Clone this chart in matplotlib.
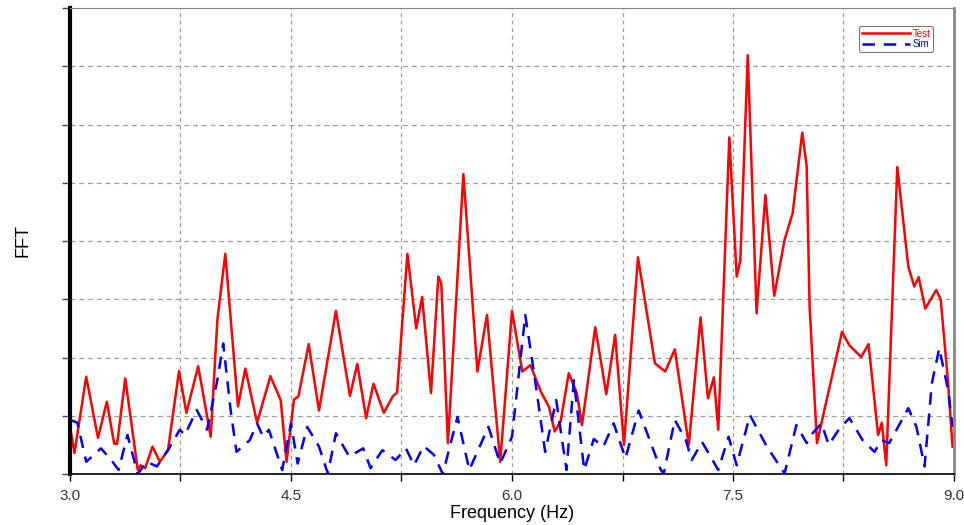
import matplotlib.pyplot as plt
import numpy as np

plt.rcParams['font.family'] = ['Liberation Sans', 'DejaVu Sans']

# Test (red) curve
test_freq = [3.00, 3.03, 3.11, 3.19, 3.25, 3.30, 3.32, 3.375, 3.46, 3.48, 3.51, 3.56, 3.61, 3.665,
             3.74, 3.79, 3.87, 3.955, 4.00, 4.054, 4.14, 4.19, 4.27, 4.36, 4.43, 4.47, 4.52, 4.55,
             4.62, 4.69, 4.805, 4.90, 4.95, 5.01, 5.06, 5.13, 5.19, 5.22, 5.29, 5.35, 5.39, 5.45,
             5.50, 5.52, 5.565, 5.67, 5.765, 5.83, 5.92, 6.00, 6.07, 6.125, 6.20, 6.25, 6.29, 6.33,
             6.385, 6.44, 6.475, 6.565, 6.64, 6.70, 6.76, 6.855, 6.97, 7.04, 7.105, 7.20, 7.28, 7.33,
             7.37, 7.40, 7.475, 7.525, 7.55, 7.60, 7.66, 7.72, 7.78, 7.85, 7.905, 7.97, 8.00, 8.02,
             8.07, 8.10, 8.24, 8.29, 8.37, 8.42, 8.485, 8.51, 8.54, 8.615, 8.69, 8.73, 8.76, 8.805,
             8.88, 8.91, 8.96, 8.99]
test_fft = [0.81, 0.36, 1.67, 0.62, 1.24, 0.52, 0.52, 1.64, 0.07, 0.15, 0.10, 0.47, 0.21, 0.41,
            1.77, 1.05, 1.85, 0.64, 2.64, 3.78, 1.16, 1.81, 0.88, 1.68, 1.27, 0.21, 1.28, 1.33,
            2.23, 1.09, 2.80, 1.34, 1.89, 0.96, 1.55, 1.05, 1.33, 1.40, 3.78, 2.50, 3.04, 1.39,
            3.39, 3.27, 0.53, 5.15, 1.76, 2.73, 0.21, 2.80, 1.76, 1.87, 1.39, 1.16, 0.73, 0.90,
            1.73, 1.39, 0.84, 2.52, 1.37, 2.39, 0.50, 3.72, 1.90, 1.76, 2.14, 0.50, 2.69, 1.30,
            1.66, 0.76, 5.78, 3.39, 3.67, 7.19, 2.76, 4.79, 3.06, 4.02, 4.48, 5.86, 5.28, 2.87,
            0.53, 0.87, 2.44, 2.21, 2.01, 2.23, 0.67, 0.88, 0.15, 5.27, 3.56, 3.22, 3.38, 2.84,
            3.16, 2.99, 1.56, 0.47]

# Sim (blue dashed) curve
sim_freq = [3.00, 3.05, 3.11, 3.21, 3.28, 3.33, 3.39, 3.46, 3.52, 3.59, 3.665, 3.745, 3.78, 3.86,
            3.93, 4.00, 4.04, 4.09, 4.13, 4.22, 4.27, 4.31, 4.35, 4.44, 4.50, 4.545, 4.61, 4.69,
            4.75, 4.805, 4.895, 4.99, 5.04, 5.12, 5.21, 5.28, 5.335, 5.40, 5.47, 5.53, 5.63, 5.71,
            5.84, 5.92, 6.00, 6.09, 6.15, 6.225, 6.30, 6.37, 6.42, 6.49, 6.555, 6.62, 6.69, 6.77,
            6.86, 7.01, 7.03, 7.105, 7.18, 7.22, 7.29, 7.40, 7.47, 7.525, 7.615, 7.73, 7.85, 7.93,
            8.00, 8.03, 8.10, 8.15, 8.22, 8.29, 8.38, 8.46, 8.51, 8.56, 8.69, 8.745, 8.80, 8.85,
            8.90, 8.96, 8.99]
sim_fft = [0.93, 0.88, 0.21, 0.44, 0.24, 0.07, 0.67, 0.0, 0.21, 0.13, 0.41, 0.76, 0.67, 1.10,
           0.76, 1.61, 2.24, 1.10, 0.38, 0.58, 0.87, 0.64, 0.76, 0.07, 0.87, 0.18, 0.81, 0.47,
           0.01, 0.70, 0.30, 0.44, 0.10, 0.41, 0.24, 0.44, 0.15, 0.48, 0.33, 0.0, 0.98, 0.07,
           0.81, 0.18, 0.64, 2.73, 1.73, 0.38, 1.27, 0.07, 1.61, 0.07, 0.60, 0.47, 0.87, 0.27,
           1.09, 0.07, 0.01, 0.93, 0.58, 0.24, 0.55, 0.07, 0.64, 0.15, 1.01, 0.47, 0.01, 0.84,
           0.53, 0.67, 0.87, 0.50, 0.77, 0.96, 0.58, 0.38, 0.58, 0.53, 1.13, 0.81, 0.13, 1.56,
           2.16, 1.44, 0.81]

x_labels = ['3.0', '4.5', '6.0', '7.5', '9.0']

fig = plt.figure(figsize=(9.64, 5.25), dpi=100)
ax = fig.add_axes([70 / 964, 51 / 525, 884 / 964, 466 / 525])

ax.plot(test_freq, test_fft, color='#ff0000', lw=1.8, label='Test',
        solid_joinstyle='round')
ax.plot(sim_freq, sim_fft, color='#0000ff', lw=1.8, ls=(0, (5, 3.5)), label='Sim',
        dash_joinstyle='round')

ax.set_xlim(3.0, 9.0)
ax.set_ylim(0, 8)
ax.set_xticks(np.arange(3.0, 9.01, 1.5))
ax.set_xticklabels(x_labels)
ax.set_xticks(np.arange(3.75, 9.0, 1.5), minor=True)
ax.set_yticks(np.arange(0, 8.01, 1))
ax.set_yticklabels([])

ax.grid(True, which='both', axis='x', color='#a09f8a', ls=(0, (3, 3)), lw=0.9)
ax.grid(True, which='major', axis='y', color='#a0a098', ls=(0, (4, 3)), lw=0.9)

ax.tick_params(axis='x', which='both', direction='out', length=5, width=1,
               labelsize=11, labelcolor='#333333', pad=6)
ax.tick_params(axis='y', which='major', direction='out', length=6, width=1, color='#444444')

ax.spines['left'].set_linewidth(3)
ax.spines['left'].set_color('black')
ax.spines['bottom'].set_linewidth(1.2)
ax.spines['bottom'].set_color('black')
ax.spines['top'].set_color('#888888')
ax.spines['right'].set_color('#888888')
ax.spines['right'].set_linewidth(2)

ax.set_xlabel('Frequency (Hz)', fontsize=13, labelpad=1)
ax.set_ylabel('FFT', fontsize=13, labelpad=18)

leg = ax.legend(loc='upper right', bbox_to_anchor=(0.982, 0.972), fontsize=7,
                handlelength=5.0, handletextpad=0.2, labelspacing=0.05, borderpad=0.3,
                frameon=True, fancybox=True, edgecolor='#555555', labelcolor='linecolor')
leg.get_frame().set_linewidth(0.8)

fig.savefig('out.png', dpi=100)
